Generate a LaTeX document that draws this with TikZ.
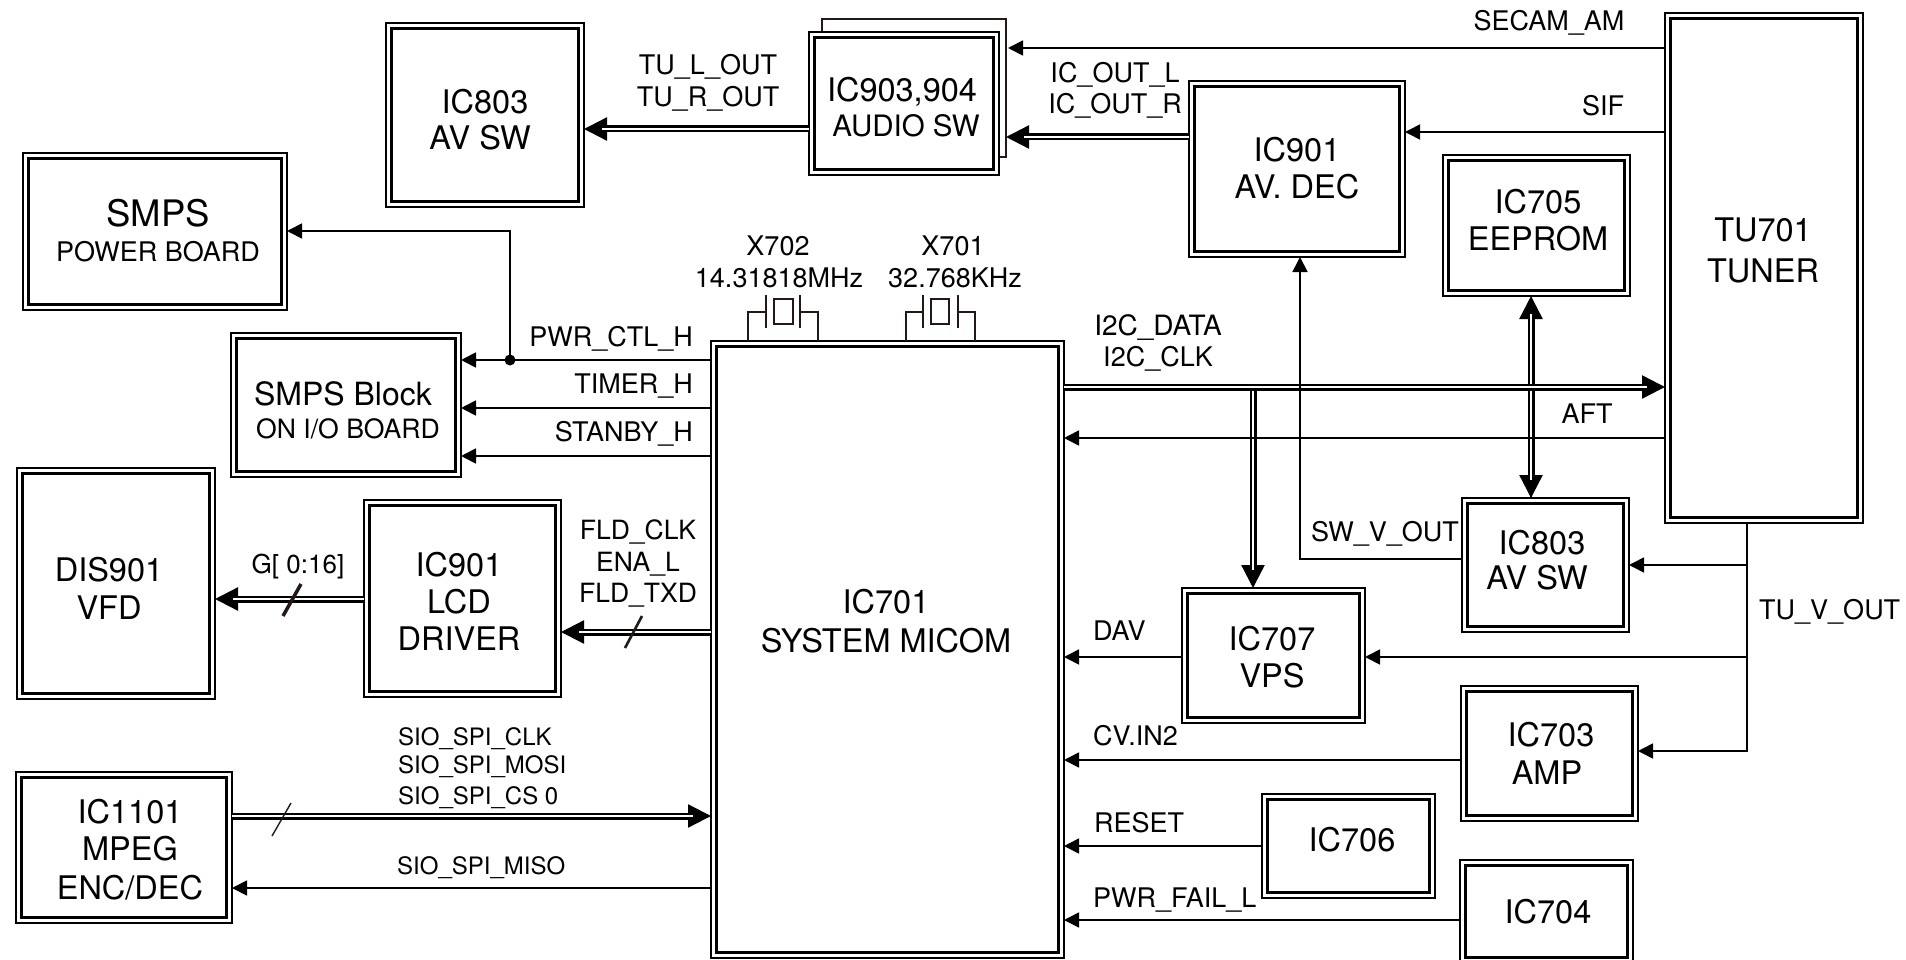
\documentclass[tikz,border=0pt]{standalone}
\usepackage{fontspec}
\setmainfont{TeX Gyre Heros}
\usetikzlibrary{arrows.meta}
\definecolor{ink}{HTML}{231815}
\newcount\lblno
\newcommand\tl[4]{\pgfmathsetlengthmacro\tdx{(#1-\bcx)*1pt}\pgfmathsetlengthmacro\tdy{(\bcy-#2-0.36*#3)*1pt}\makebox[0pt][l]{\hspace*{\tdx}\raisebox{\tdy}[0pt][0pt]{\makebox[0pt][c]{\fontsize{#3pt}{#3pt}\selectfont #4}}}}
\newcommand\ibox[6]{%
  \pgfmathsetmacro\bcx{(#2+#4)/2}\pgfmathsetmacro\bcy{(#3+#5)/2}%
  \pgfmathsetmacro\bw{#4-#2}\pgfmathsetmacro\bh{#5-#3}%
  \node[outerbox,minimum width=\bw pt,minimum height=\bh pt] (#1) at (\bcx,\bcy) {#6};
  \draw[innerbox] ({#2+5.5},{#3+5.5}) rectangle ({#4-5.5},{#5-5.5});
}
\newcommand\lbl[5]{\global\advance\lblno by 1
  \node[anchor=#1,inner sep=0pt,font=\fontsize{#4pt}{#4pt}\selectfont] (lbl\the\lblno) at (#2,{#3+0.36*#4}) {#5};}
\newcommand\busarrow[2]{\draw[bushead] #1 -- #2; \draw[busline,shorten >=18pt] #1 -- #2;}
\tikzset{
  outerbox/.style={draw=black,fill=white,line width=2pt,inner sep=0pt,outer sep=0pt,rectangle},
  innerbox/.style={draw=black,line width=3pt},
  backbox/.style={draw=ink,fill=white,line width=1.6pt,inner sep=0pt,outer sep=0pt,rectangle},
  sig/.style={draw=black,line width=1.7pt,-{Triangle[length=15pt,width=15pt]}},
  plain/.style={draw=black,line width=1.7pt},
  bushead/.style={draw=black,line width=2.4pt,-{Triangle[length=23pt,width=23pt]}},
  busline/.style={draw=black,double=white,double distance=2.2pt,line width=2.4pt},
  xtal/.style={draw=ink,line width=1.2pt},
  slashthin/.style={draw=ink,line width=1.4pt},
  slashthick/.style={draw=ink,line width=3.5pt},
  junction/.style={circle,fill=black,inner sep=0pt,minimum size=11pt,outer sep=0pt}
}
\begin{document}
\begin{tikzpicture}[x=1pt,y=-1pt]
\useasboundingbox[fill=white] (0,0) rectangle (1906,960);

\node[backbox,minimum width=184pt,minimum height=138pt] (ic903b) at (914,88) {};

\ibox{ic803t}{386}{23}{584}{207}{\tl{485}{102}{32.5}{IC803}\tl{480}{138}{32.5}{AV SW}}
\ibox{ic903}{809}{32}{999}{175}{\tl{902}{90}{32.5}{IC903,904}\tl{906}{126}{29.5}{AUDIO SW}}
\ibox{ic901a}{1189}{81}{1405}{257}{\tl{1297}{150}{32.5}{IC901}\tl{1297}{187}{32.5}{AV. DEC}}
\ibox{tu701}{1665}{13}{1863}{523}{\tl{1763}{230}{32.5}{TU701}\tl{1763}{271}{32.5}{TUNER}}
\ibox{ic705}{1443}{155}{1630}{296}{\tl{1538}{202}{32.5}{IC705}\tl{1538}{239}{32.5}{EEPROM}}
\ibox{smps}{23}{153}{287}{310}{\tl{158}{213}{36.5}{SMPS}\tl{158}{252}{27}{POWER BOARD}}
\ibox{smpsb}{231}{333}{461}{477}{\tl{343}{394}{32}{SMPS Block}\tl{348}{429}{26.6}{ON I/O BOARD}}
\ibox{dis901}{17}{468}{215}{699}{\tl{109}{570}{32.5}{DIS901}\tl{109}{608}{32.5}{VFD}}
\ibox{ic901l}{364}{500}{561}{697}{\tl{459}{565}{32.5}{IC901}\tl{459}{602}{32.5}{LCD}\tl{459}{639}{32.5}{DRIVER}}
\ibox{ic1101}{16}{772}{232}{923}{\tl{130}{812}{32.5}{IC1101}\tl{130}{849}{32.5}{MPEG}\tl{130}{888}{32.5}{ENC/DEC}}
\ibox{ic701}{711}{341}{1064}{958}{\tl{886}{602}{32.5}{IC701}\tl{886}{641}{32.5}{SYSTEM MICOM}}
\ibox{ic803b}{1462}{498}{1629}{632}{\tl{1542}{543}{32.5}{IC803}\tl{1537}{578}{32.5}{AV SW}}
\ibox{ic707}{1182}{588}{1365}{723}{\tl{1272}{639}{32.5}{IC707}\tl{1272}{676}{32.5}{VPS}}
\ibox{ic703}{1461}{686}{1638}{821}{\tl{1551}{735}{32.5}{IC703}\tl{1547}{773}{32.5}{AMP}}
\ibox{ic706}{1262}{794}{1435}{898}{\tl{1352}{840}{32.5}{IC706}}
\ibox{ic704}{1460}{860}{1633}{962.5}{\tl{1548}{912}{32.5}{IC704}}

% crystals
\coordinate (x2a) at (748,312); \coordinate (x2b) at (818,312);
\coordinate (x1a) at (906,312); \coordinate (x1b) at (975,312);
\draw[xtal] (x2a |- ic701.north) -- (x2a) -- (766,312);
\draw[xtal] (766,295) -- (766,328);
\draw[xtal] (774,299) rectangle (793,324);
\draw[xtal] (800,295) -- (800,328);
\draw[xtal] (800,312) -- (x2b) -- (x2b |- ic701.north);
\draw[xtal] (x1a |- ic701.north) -- (x1a) -- (923,312);
\draw[xtal] (923,295) -- (923,328);
\draw[xtal] (931,299) rectangle (949,324);
\draw[xtal] (958,295) -- (958,328);
\draw[xtal] (958,312) -- (x1b) -- (x1b |- ic701.north);

% buses
\draw[bushead] (1531,498) -- (ic705.south -| 1531,0);
\draw[bushead] (1531,298) -- (ic803b.north -| 1531,0);
\draw[busline,shorten >=18pt,shorten <=18pt] (ic705.south -| 1531,0) -- (ic803b.north -| 1531,0);
\busarrow{(1253,389)}{(ic707.north -| 1253,0)}
\busarrow{(ic701.east |- 0,387)}{(tu701.west |- 0,387)}
\busarrow{(ic903.west |- 0,129)}{(ic803t.east |- 0,129)}
\busarrow{(ic901a.west |- 0,137)}{(ic903b.east |- 0,137)}
\busarrow{(ic901l.west |- 0,599)}{(dis901.east |- 0,599)}
\busarrow{(ic701.west |- 0,632)}{(ic901l.east |- 0,632)}
\busarrow{(ic1101.east |- 0,816)}{(ic701.west |- 0,816)}

% bus slashes
\coordinate (s1a) at (301,584); \coordinate (s1b) at (283,616);
\coordinate (s2a) at (642,616); \coordinate (s2b) at (625,648);
\coordinate (s3a) at (291,803); \coordinate (s3b) at (272,836);
\draw[slashthick] (s1a) -- (s1b);
\draw[slashthick,line width=2.6pt] (s2a) -- (s2b);
\draw[slashthin] (s3a) -- (s3b);

% signals
\draw[sig,shorten >=2pt] (tu701.west |- 0,48) -- (ic903b.east |- 0,48);
\draw[sig] (tu701.west |- 0,132) -- (ic901a.east |- 0,132);
\draw[sig] (tu701.west |- 0,438) -- (ic701.east |- 0,438);
\node[junction] (j1) at (510,360) {};
\draw[sig] (ic701.west |- j1) -- (smpsb.east |- j1);
\coordinate (j2) at (510,231);
\draw[sig] (j1.center) -- (j2) -- (smps.east |- j2);
\draw[sig] (ic701.west |- 0,408) -- (smpsb.east |- 0,408);
\draw[sig] (ic701.west |- 0,456) -- (smpsb.east |- 0,456);
\draw[sig] (ic701.west |- 0,888) -- (ic1101.east |- 0,888);
\coordinate (sw) at (1300,559);
\draw[sig] (ic803b.west |- sw) -- (sw) -- (ic901a.south -| sw);
\draw[sig] (ic707.west |- 0,657) -- (ic701.east |- 0,657);
\draw[sig] (ic703.west |- 0,760) -- (ic701.east |- 0,760);
\draw[sig] (ic706.west |- 0,846) -- (ic701.east |- 0,846);
\draw[sig] (ic704.west |- 0,920) -- (ic701.east |- 0,920);
\coordinate (tv0) at (1747,751);
\coordinate (tv1) at (1747,565);
\coordinate (tv2) at (1747,657);
\draw[plain] (tv1 |- tu701.south) -- (tv1);
\draw[plain] (tv1) -- (tv2);
\draw[sig] (tv1) -- (ic803b.east |- tv1);
\draw[sig] (tv2) -- (ic707.east |- tv2);
\draw[sig] (tv2) -- (tv0) -- (ic703.east |- tv0);

% labels
\lbl{base}{708}{65}{27}{TU\_L\_OUT}
\lbl{base}{708}{97}{27}{TU\_R\_OUT}
\lbl{base}{1115}{73}{27}{IC\_OUT\_L}
\lbl{base}{1115}{104}{27}{IC\_OUT\_R}
\lbl{base}{1549}{21}{27}{SECAM\_AM}
\lbl{base}{1603}{106}{27}{SIF}
\lbl{base}{778}{246}{27}{X702}
\lbl{base}{779}{278}{27}{14.31818MHz}
\lbl{base}{953}{246}{27}{X701}
\lbl{base}{955}{278}{27}{32.768KHz}
\lbl{base}{1158}{325}{28}{I2C\_DATA}
\lbl{base}{1158}{357}{27}{I2C\_CLK}
\lbl{base}{1587}{414}{27}{AFT}
\lbl{base east}{693}{337}{27}{PWR\_CTL\_H}
\lbl{base east}{693}{384}{27}{TIMER\_H}
\lbl{base east}{693}{432}{27}{STANBY\_H}
\lbl{base}{638}{530}{26.5}{FLD\_CLK}
\lbl{base}{638}{562}{26.5}{ENA\_L}
\lbl{base}{638}{593}{26.5}{FLD\_TXD}
\lbl{base}{298}{564}{26}{G[ 0:16]}
\lbl{base west}{398}{737}{24}{SIO\_SPI\_CLK}
\lbl{base west}{398}{765}{24}{SIO\_SPI\_MOSI}
\lbl{base west}{398}{796}{24}{SIO\_SPI\_CS 0}
\lbl{base west}{397}{866}{24}{SIO\_SPI\_MISO}
\lbl{base west}{1311}{532}{27}{SW\_V\_OUT}
\lbl{base west}{1759}{610}{27}{TU\_V\_OUT}
\lbl{base west}{1093}{631}{27}{DAV}
\lbl{base west}{1093}{736}{27}{CV.IN2}
\lbl{base west}{1094}{823}{27}{RESET}
\lbl{base west}{1093}{898}{27}{PWR\_FAIL\_L}
\end{tikzpicture}
\end{document}
